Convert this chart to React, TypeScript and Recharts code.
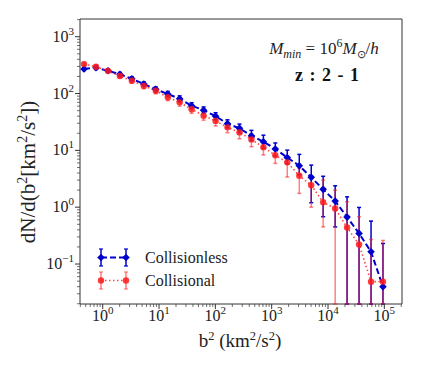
import { LineChart, Line, XAxis, YAxis, ErrorBar, ReferenceArea, Legend } from "recharts";

// bin centres, b^2 in km^2/s^2
const b2 = [
  0.466, 0.759, 1.24, 2.02, 3.29, 5.37, 8.75, 14.3, 23.2, 37.9, 61.8, 101, 164,
  268, 437, 713, 1160, 1890, 3090, 5040, 8200, 13400, 21800, 35600, 58100, 94600,
];

const collisionless = [
  270, 285, 252, 218, 182, 147, 119, 98, 81, 61, 51, 40, 29.5, 24.4, 18.1, 14.2,
  10.6, 7.5, 5.36, 3.35, 2.06, 1.28, 0.67, 0.346, 0.164, 0.04,
];
// 0 = error bar runs below the bottom of the axis
const collisionlessLow = [
  255, 265, 236, 202, 168, 135, 108, 88, 72, 54, 45, 34.5, 25, 20.5, 14.8, 11,
  8, 5.8, 3.7, 1.2, 0.68, 0.45, 0, 0, 0, 0,
];
const collisionlessHigh = [
  288, 305, 270, 235, 197, 160, 131, 109, 91, 69, 58, 46, 34.5, 29, 22.5, 18.5,
  13.5, 10.1, 8.5, 5.5, 3.5, 2.38, 1.52, 0.99, 0.57, 0.23,
];

const collisional = [
  330, 296, 251, 203, 168, 136, 112, 86, 70, 53, 40.6, 33, 25.4, 20.7, 15.6, 11.4,
  8.2, 6.15, 3.57, 2.44, 1.22, 0.95, 0.44, 0.22, 0.049, 0.049,
];
const collisionalLow = [
  310, 278, 233, 187, 152, 122, 99, 75, 60, 45, 34, 27, 20.5, 16, 11.6, 8.3,
  5.9, 3.4, 1.75, 1.0, 0.45, 0, 0, 0, 0, 0,
];
const collisionalHigh = [
  350, 314, 270, 220, 184, 150, 125, 97, 80, 61, 47, 39, 30.5, 25.5, 19.5, 14.2,
  10.5, 7.4, 4.8, 3.6, 3.0, 2.0, 1.25, 0.68, 0.27, 0.26,
];

const xMajor = [1, 10, 100, 1000, 10000, 100000];
const yMajor = [0.1, 1, 10, 100, 1000];
const X_DOMAIN = [0.395, 206000];
const Y_DOMAIN = [0.0198, 2050];

const BLUE = "#0000cc";
const RED = "#ff1a1a";
const FONT = "'Liberation Serif', serif";

function minorTicks(majors: number[], lo: number, hi: number) {
  const out: number[] = [];
  const starts = [majors[0] / 10, ...majors];
  starts.forEach((m) => {
    for (let k = 1; k <= 9; k++) {
      const v = +(m * k).toPrecision(6);
      if (v >= lo && v <= hi) out.push(v);
    }
  });
  return out;
}

const xTicks = minorTicks(xMajor, X_DOMAIN[0], X_DOMAIN[1]);
const yTicks = minorTicks(yMajor, Y_DOMAIN[0], Y_DOMAIN[1]);

// log axis: a lower end at or below zero is stopped at the axis floor
const floor = (v: number) => Math.max(v, Y_DOMAIN[0]);

const rows = b2.map((x, i) => ({
  x,
  blue: collisionless[i],
  blueErr: [collisionless[i] - floor(collisionlessLow[i]), collisionlessHigh[i] - collisionless[i]],
  red: collisional[i],
  redErr: [collisional[i] - floor(collisionalLow[i]), collisionalHigh[i] - collisional[i]],
}));

function isMajor(v: number) {
  const l = Math.log10(v);
  return Math.abs(l - Math.round(l)) < 1e-6;
}

function expLabel(v: number) {
  const e = Math.round(Math.log10(v));
  return e < 0 ? `\u2212${-e}` : `${e}`;
}

function XTick({ x, y, payload }: any) {
  const v = payload.value;
  const major = isMajor(v);
  return (
    <g>
      <line x1={x} x2={x} y1={y} y2={y + (major ? 5 : 3)} stroke="#333" strokeWidth={major ? 1 : 0.7} />
      {major && (
        <text x={x} y={y + 17} textAnchor="middle" fontFamily={FONT} fontSize={16} fill="#222">
          10<tspan dy={-7} fontSize={11}>{expLabel(v)}</tspan>
        </text>
      )}
    </g>
  );
}

function YTick({ x, y, payload }: any) {
  const v = payload.value;
  const major = isMajor(v);
  return (
    <g>
      <line x1={x} x2={x - (major ? 5 : 3)} y1={y} y2={y} stroke="#333" strokeWidth={major ? 1 : 0.7} />
      {major && (
        <text x={x - 6} y={y + 5} textAnchor="end" fontFamily={FONT} fontSize={16} fill="#222">
          10<tspan dy={-7} fontSize={11}>{expLabel(v)}</tspan>
        </text>
      )}
    </g>
  );
}

function Diamond({ cx, cy }: any) {
  if (cx == null || cy == null) return null;
  return <path d={`M${cx},${cy - 3.8}L${cx + 3.8},${cy}L${cx},${cy + 3.8}L${cx - 3.8},${cy}Z`} fill={BLUE} />;
}

function Dot({ cx, cy }: any) {
  if (cx == null || cy == null) return null;
  return <circle cx={cx} cy={cy} r={3.2} fill={RED} fillOpacity={0.85} />;
}

function LegendSample({ color, dash, marker, opacity }: { color: string; dash: string; marker: "d" | "o"; opacity: number }) {
  const xs = [9, 34];
  const barOpacity = marker === "d" ? 1 : 0.55;
  return (
    <svg width={53} height={23} style={{ display: "block" }}>
      <line x1={xs[0]} x2={xs[1]} y1={11.5} y2={11.5} stroke={color} strokeWidth={marker === "d" ? 2 : 1.6} strokeDasharray={dash} strokeOpacity={opacity} />
      {xs.map((x) => (
        <g key={x}>
          <line x1={x} x2={x} y1={3} y2={20} stroke={color} strokeWidth={1.5} strokeOpacity={barOpacity} />
          <line x1={x - 2} x2={x + 2} y1={3} y2={3} stroke={color} strokeWidth={1.2} strokeOpacity={barOpacity} />
          <line x1={x - 2} x2={x + 2} y1={20} y2={20} stroke={color} strokeWidth={1.2} strokeOpacity={barOpacity} />
          {marker === "d" ? (
            <path d={`M${x},${11.5 - 3.8}L${x + 3.8},11.5L${x},${11.5 + 3.8}L${x - 3.8},11.5Z`} fill={color} />
          ) : (
            <circle cx={x} cy={11.5} r={3.2} fill={color} fillOpacity={0.85} />
          )}
        </g>
      ))}
    </svg>
  );
}

function LegendBox() {
  const items = [
    { label: "Collisionless", color: BLUE, dash: "6 3", marker: "d" as const, opacity: 1 },
    { label: "Collisional", color: RED, dash: "1.5 2.5", marker: "o" as const, opacity: 0.8 },
  ];
  return (
    <div style={{ fontFamily: FONT, fontSize: 16, color: "#222" }}>
      {items.map((it) => (
        <div key={it.label} style={{ display: "flex", alignItems: "center", height: 23 }}>
          <LegendSample color={it.color} dash={it.dash} marker={it.marker} opacity={it.opacity} />
          <span style={{ fontFamily: FONT }}>{it.label}</span>
        </div>
      ))}
    </div>
  );
}

function XTitle() {
  return (
    <text x={240} y={347} textAnchor="middle" fontFamily={FONT} fontSize={19} fill="#222">
      b<tspan dy={-7} fontSize={12.5}>2</tspan>
      <tspan dy={7}> (km</tspan>
      <tspan dy={-7} fontSize={12.5}>2</tspan>
      <tspan dy={7}>/s</tspan>
      <tspan dy={-7} fontSize={12.5}>2</tspan>
      <tspan dy={7}>)</tspan>
    </text>
  );
}

function YTitle() {
  return (
    <text x={0} y={0} transform="translate(35,172) rotate(-90)" textAnchor="middle" fontFamily={FONT} fontSize={21} fill="#222">
      dN/d(b<tspan dy={-8} fontSize={14}>2</tspan>
      <tspan dy={8}>[km</tspan>
      <tspan dy={-8} fontSize={14}>2</tspan>
      <tspan dy={8}>/s</tspan>
      <tspan dy={-8} fontSize={14}>2</tspan>
      <tspan dy={8}>])</tspan>
    </text>
  );
}

export default function App() {
  return (
    <div style={{ position: "absolute", left: 0, top: 0, width: 421, height: 369, background: "#fff" }}>
      <LineChart width={421} height={369} data={rows} margin={{ top: 19, right: 19, left: 0, bottom: 0 }}>
        <XAxis
          dataKey="x"
          type="number"
          scale="log"
          domain={X_DOMAIN}
          allowDataOverflow
          ticks={xTicks}
          interval={0}
          tick={<XTick />}
          tickLine={false}
          tickSize={0}
          tickMargin={0}
          axisLine={false}
          height={65}
          label={{ content: () => <XTitle /> }}
        />
        <YAxis
          type="number"
          scale="log"
          domain={Y_DOMAIN}
          allowDataOverflow
          ticks={yTicks}
          interval={0}
          tick={<YTick />}
          tickLine={false}
          tickSize={0}
          tickMargin={0}
          axisLine={false}
          width={80}
          label={{ content: () => <YTitle /> }}
        />
        <Line
          dataKey="blue"
          stroke={BLUE}
          strokeWidth={2}
          strokeDasharray="6 3"
          dot={<Diamond />}
          activeDot={false}
          isAnimationActive={false}
        >
          <ErrorBar dataKey="blueErr" direction="y" width={2} stroke={BLUE} strokeWidth={1.5} isAnimationActive={false} />
        </Line>
        <Line
          dataKey="red"
          stroke={RED}
          strokeOpacity={0.8}
          strokeWidth={1.6}
          strokeDasharray="1.5 2.5"
          dot={<Dot />}
          activeDot={false}
          isAnimationActive={false}
        >
          <ErrorBar dataKey="redErr" direction="y" width={2} stroke={RED} strokeOpacity={0.55} strokeWidth={1.5} isAnimationActive={false} />
        </Line>
        <ReferenceArea x1={X_DOMAIN[0]} x2={X_DOMAIN[1]} y1={Y_DOMAIN[0]} y2={Y_DOMAIN[1]} fill="none" stroke="#333" strokeWidth={1} />
        <Legend
          layout="horizontal"
          align="center"
          verticalAlign="middle"
          content={() => <LegendBox />}
          wrapperStyle={{ left: 92, top: 246, width: 150 }}
        />
      </LineChart>
      <div style={{ position: "absolute", left: 224, top: 39, width: 200, textAlign: "center", fontFamily: FONT, fontSize: 17, color: "#222", whiteSpace: "nowrap" }}>
        <i>M</i>
        <span style={{ fontSize: 12, fontStyle: "italic", position: "relative", top: 4 }}>min</span>
        {" = 10"}
        <span style={{ fontSize: 12, position: "relative", top: -7 }}>6</span>
        <i>M</i>
        <span style={{ fontSize: 11, position: "relative", top: 4 }}>⊙</span>
        /<i>h</i>
      </div>
      <div style={{ position: "absolute", left: 227, top: 65, width: 200, textAlign: "center", fontFamily: FONT, fontSize: 18, fontWeight: "bold", color: "#111", wordSpacing: 2, whiteSpace: "pre" }}>
        z : 2 - 1
      </div>
    </div>
  );
}
